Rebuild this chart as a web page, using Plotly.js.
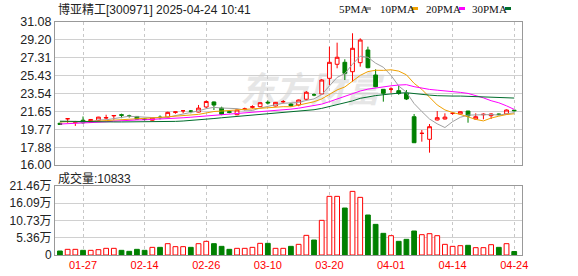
<!DOCTYPE html>
<html><head><meta charset="utf-8">
<script src="https://cdn.plot.ly/plotly-3.0.1.min.js"></script>
<style>html,body{margin:0;padding:0;background:#fff;}#chart{width:578px;height:276px;}</style>
</head><body><div id="chart"></div>
<script>
const stockName = '博亚精工';
const stockCode = '300971';
const stamp = '2025-04-24 10:41';

const dates = ['01-22','01-23','01-24','01-27','02-05','02-06','02-07','02-10','02-11','02-12',
  '02-13','02-14','02-17','02-18','02-19','02-20','02-21','02-24','02-25','02-26',
  '02-27','02-28','03-03','03-04','03-05','03-06','03-07','03-10','03-11','03-12',
  '03-13','03-14','03-17','03-18','03-19','03-20','03-21','03-24','03-25','03-26',
  '03-27','03-28','03-31','04-01','04-02','04-03','04-07','04-08','04-09','04-10',
  '04-11','04-14','04-15','04-16','04-17','04-18','04-21','04-22','04-23','04-24'];

const openP = [20.40,20.88,20.48,20.72,20.52,20.70,20.95,21.18,21.30,21.16,
  21.12,20.85,20.72,21.05,21.05,21.55,21.72,21.68,21.58,22.12,
  22.65,22.00,21.62,21.30,21.85,22.08,22.15,22.62,22.22,22.68,
  22.43,22.33,22.93,23.40,23.49,25.14,26.62,26.83,25.84,26.79,
  28.13,25.49,23.98,24.00,23.84,23.56,21.09,19.34,18.71,20.75,
  20.85,21.45,21.38,21.69,20.85,21.30,21.20,21.38,21.38,21.78];
const highP = [20.45,20.95,20.65,21.12,20.85,21.08,21.30,21.23,21.41,21.30,
  21.15,20.90,21.02,21.23,21.62,21.62,21.80,21.80,22.33,22.80,
  22.70,22.15,21.75,21.85,22.05,22.30,22.60,22.80,22.65,22.85,
  22.55,22.90,23.80,23.55,25.07,28.48,28.90,27.15,29.89,29.36,
  28.48,26.09,24.01,24.20,24.33,23.91,21.38,19.69,20.32,21.69,
  21.45,21.60,21.65,21.70,21.45,21.45,21.45,21.42,21.85,21.80];
const lowP = [20.22,20.45,20.12,20.35,20.50,20.68,20.80,20.77,20.94,21.00,
  20.80,20.70,20.68,20.81,21.00,21.40,21.45,21.45,21.55,21.98,
  21.80,21.25,21.45,21.25,21.75,21.95,22.10,22.38,22.18,22.50,
  22.15,22.20,22.80,23.25,23.45,24.44,26.20,24.96,24.78,26.37,
  26.20,24.20,22.68,23.60,23.40,22.85,18.35,18.46,17.30,20.70,
  20.80,21.30,21.30,20.46,20.80,20.82,20.85,21.25,21.35,21.65];
const closeP = [20.28,20.88,20.55,20.46,20.80,21.05,21.00,21.22,21.25,21.16,
  20.84,20.82,20.98,21.00,21.55,21.60,21.72,21.68,22.00,22.70,
  22.32,21.35,21.55,21.80,21.92,22.15,22.57,22.55,22.61,22.68,
  22.25,22.85,23.67,23.40,24.96,26.83,27.36,25.67,28.31,29.18,
  26.26,24.26,23.56,24.00,23.55,22.96,18.35,19.34,20.04,20.99,
  21.05,21.45,21.62,21.17,21.09,21.35,21.38,21.32,21.80,21.73];

// volume in 万 (10k lots)
const volume = [1.24,1.76,1.76,1.45,1.45,1.66,2.07,2.07,1.45,1.14,
  1.76,1.45,2.38,2.38,3.52,2.59,2.59,2.38,3.52,4.25,
  3.52,2.69,1.76,2.07,2.07,2.38,3.63,3.63,2.07,2.07,
  2.69,3.32,6.11,4.66,10.78,18.24,18.24,14.61,19.79,17.93,
  12.44,9.53,6.74,6.01,4.25,4.87,7.46,6.32,6.63,6.01,
  3.32,2.69,2.90,3.01,2.28,2.28,3.21,2.38,3.52,1.0833];

const ma5 = [20.55,20.60,20.55,20.50,20.59,20.75,20.77,20.91,21.06,21.14,
  21.09,21.06,21.01,20.96,21.04,21.19,21.37,21.51,21.71,21.94,
  22.08,22.01,21.98,21.94,21.79,21.75,22.00,22.20,22.36,22.51,
  22.53,22.59,22.81,22.97,23.43,24.34,25.24,25.64,26.63,27.47,
  27.36,26.74,26.31,25.45,24.33,23.67,22.48,21.64,20.85,20.34,
  19.95,20.57,21.03,21.26,21.28,21.34,21.32,21.26,21.39,21.52];
const ma10 = [20.55,20.55,20.55,20.56,20.58,20.62,20.68,20.74,20.80,20.87,
  20.92,20.92,20.96,21.01,21.09,21.14,21.21,21.26,21.34,21.49,
  21.64,21.69,21.75,21.83,21.86,21.92,22.00,22.09,22.15,22.15,
  22.14,22.29,22.51,22.67,22.97,23.44,23.92,24.23,24.80,25.45,
  25.85,25.99,25.98,26.04,25.90,25.51,24.61,23.98,23.15,22.33,
  21.81,21.53,21.34,21.05,20.81,20.65,20.95,21.15,21.32,21.40];
const ma20 = [20.32,20.35,20.38,20.40,20.42,20.48,20.55,20.62,20.68,20.72,
  20.75,20.77,20.80,20.84,20.88,20.92,20.98,21.04,21.10,21.18,
  21.28,21.30,21.35,21.42,21.48,21.53,21.61,21.68,21.74,21.82,
  21.89,21.99,22.13,22.25,22.42,22.68,22.96,23.16,23.48,23.80,
  24.00,24.14,24.24,24.35,24.43,24.47,24.26,24.10,23.97,23.89,
  23.83,23.76,23.66,23.55,23.35,23.08,22.78,22.56,22.24,21.86];
const ma30 = [20.62,20.60,20.58,20.57,20.56,20.55,20.54,20.54,20.54,20.54,
  20.54,20.55,20.55,20.56,20.57,20.60,20.64,20.69,20.75,20.82,
  20.90,20.98,21.05,21.12,21.19,21.25,21.32,21.38,21.44,21.50,
  21.57,21.63,21.74,21.83,21.97,22.17,22.38,22.53,22.76,23.03,
  23.21,23.32,23.41,23.51,23.58,23.62,23.51,23.43,23.37,23.31,
  23.27,23.27,23.27,23.25,23.22,23.20,23.16,23.12,23.09,23.06];

const priceTicks = [16.00,17.88,19.77,21.65,23.54,25.43,27.31,29.20,31.08];
const volTicks = [0,5.36,10.73,16.09,21.46];
const dateTicks = ['01-27','02-14','02-26','03-10','03-20','04-01','04-14','04-24'];
const maNames = ['5PMA','10PMA','20PMA','30PMA'];

// ---------- styling / layout ----------
const W = 578, H = 276;
const px = v => v / W;
const py = v => 1 - v / H;
const RED = '#ff0000', GREEN = '#008000';
const MA_COLORS = ['#a0a0a0', '#f0a000', '#ff00ff', '#006d2c'];
const FONT = '"Liberation Sans", "Noto Sans CJK SC", Arial, sans-serif';
const SERIF = '"Liberation Serif", "Noto Sans CJK SC", serif';

const idx = dates.map((d, i) => i);
const tickIdx = dateTicks.map(d => dates.indexOf(d));

// candle direction (same rule plotly uses for ties)
const up = [];
let prevUp = true;
for (let i = 0; i < closeP.length; i++) {
  let u;
  if (closeP[i] > openP[i]) u = true;
  else if (closeP[i] < openP[i]) u = false;
  else if (i > 0 && closeP[i] !== closeP[i - 1]) u = closeP[i] > closeP[i - 1];
  else u = prevUp;
  up.push(u); prevUp = u;
}

const xRange = [-0.64, 60.01];

const traces = [];
traces.push({
  type: 'candlestick', x: idx, open: openP, high: highP, low: lowP, close: closeP,
  xaxis: 'x', yaxis: 'y', whiskerwidth: 0, hoverinfo: 'skip',
  increasing: {line: {color: RED, width: 1}, fillcolor: '#ffffff'},
  decreasing: {line: {color: GREEN, width: 1}, fillcolor: GREEN}
});
[ma5, ma10, ma20, ma30].forEach((m, k) => {
  traces.push({type: 'scatter', mode: 'lines', x: idx, y: m, xaxis: 'x', yaxis: 'y',
    line: {color: MA_COLORS[k], width: 1}, hoverinfo: 'skip'});
});
traces.push({
  type: 'bar', x: idx, y: volume, xaxis: 'x2', yaxis: 'y2', width: 0.62, hoverinfo: 'skip',
  marker: {color: up.map(u => u ? '#ffffff' : GREEN),
           line: {color: up.map(u => u ? RED : GREEN), width: 1}}
});

const gridX = {showgrid: true, gridcolor: '#c8c8c8', griddash: '3px,3px', gridwidth: 1};
const boxLine = {showline: true, linecolor: '#999999', linewidth: 1, mirror: true, zeroline: false};

const annotations = [
  {xref: 'paper', yref: 'paper', x: px(56), y: py(9), xanchor: 'left', yanchor: 'middle',
   showarrow: false, text: stockName + '[' + stockCode + '] ' + stamp,
   font: {family: FONT, size: 12, color: '#222'}},
  {xref: 'paper', yref: 'paper', x: px(56), y: py(178), xanchor: 'left', yanchor: 'middle',
   showarrow: false, text: '成交量:' + Math.round(volume[volume.length - 1] * 10000),
   font: {family: FONT, size: 12, color: '#222'}}
];
const legX = [338, 379, 425, 471];
const swX = [365, 412, 459, 505];
const shapes = [];
maNames.forEach((n, k) => {
  annotations.push({xref: 'paper', yref: 'paper', x: px(legX[k] - 1), y: py(9), xanchor: 'left',
    yanchor: 'middle', showarrow: false, text: n, font: {family: SERIF, size: 11, color: '#111'}});
  shapes.push({type: 'rect', xref: 'paper', yref: 'paper', x0: px(swX[k]), x1: px(swX[k] + 6),
    y0: py(10), y1: py(7), fillcolor: MA_COLORS[k], line: {width: 0}});
});
shapes.push({type: 'rect', xref: 'paper', yref: 'paper', layer: 'below',
  x0: px(235), x1: px(385), y0: py(112), y1: py(72), line: {width: 0}, fillcolor: 'rgba(0,0,0,0)',
  label: {text: '东方财富', textposition: 'middle center',
          font: {family: '"Noto Sans CJK SC", sans-serif', size: 35, color: '#e6e6e6',
                 weight: 'bold', style: 'italic'}}});

const layout = {
  width: W, height: H, margin: {l: 0, r: 0, t: 0, b: 0},
  paper_bgcolor: '#ffffff', plot_bgcolor: '#ffffff', showlegend: false,
  xaxis: Object.assign({domain: [px(55), px(522)], range: xRange, anchor: 'y',
    tickvals: tickIdx, showticklabels: false, ticks: '', fixedrange: true,
    rangeslider: {visible: false}}, gridX, boxLine),
  yaxis: Object.assign({domain: [py(165), py(22)], range: [16, 31.08], anchor: 'x',
    tickvals: priceTicks, ticktext: priceTicks.map(v => v.toFixed(2)), ticks: '',
    showgrid: true, gridcolor: '#d0d0d0', gridwidth: 1,
    tickfont: {family: FONT, size: 12.5, color: '#222'}, fixedrange: true}, boxLine),
  xaxis2: Object.assign({domain: [px(55), px(522)], range: xRange, anchor: 'y2',
    tickvals: tickIdx, ticktext: dateTicks, ticks: '',
    tickfont: {family: FONT, size: 11, color: RED}, fixedrange: true}, gridX, boxLine),
  yaxis2: Object.assign({domain: [py(255), py(186)], range: [0, 21.46], anchor: 'x2',
    tickvals: volTicks, ticktext: volTicks.map(v => v === 0 ? '0' : v.toFixed(2) + '万'), ticks: '',
    showgrid: true, gridcolor: '#d0d0d0', gridwidth: 1,
    tickfont: {family: FONT, size: 12, color: '#222'}, fixedrange: true}, boxLine),
  annotations: annotations,
  shapes: shapes
};

Plotly.newPlot('chart', traces, layout, {staticPlot: true, displayModeBar: false});
</script>
</body></html>
